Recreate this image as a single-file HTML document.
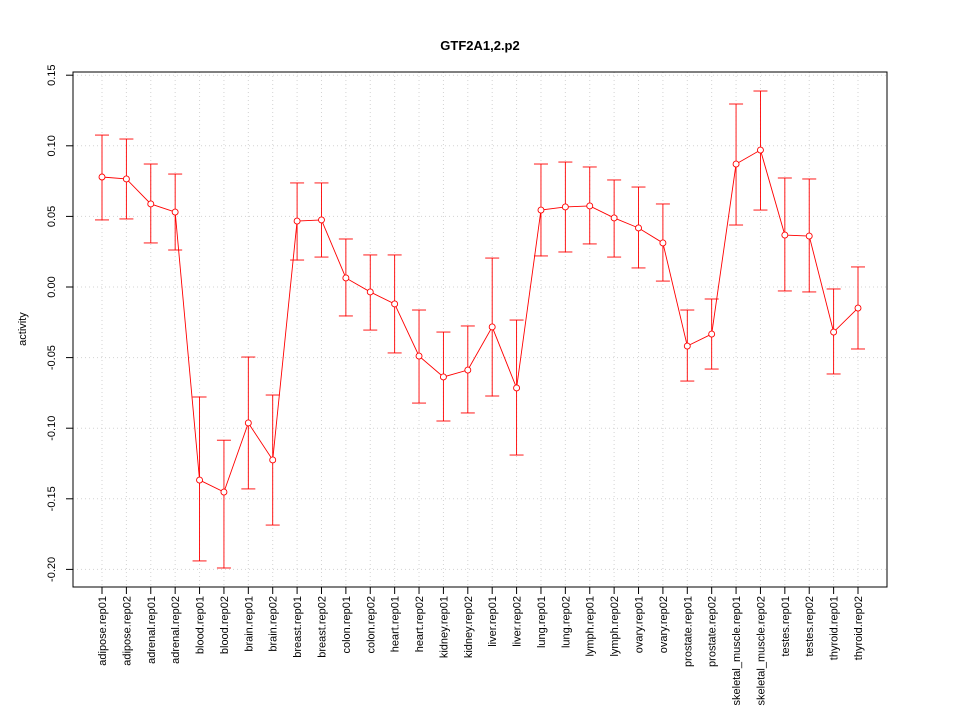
<!DOCTYPE html>
<html><head><meta charset="utf-8"><style>
body{margin:0;background:#fff}
svg{font-family:"Liberation Sans",sans-serif}
</style></head><body>
<svg id="chart" width="960" height="720"></svg>
<script>
const categories=["adipose.rep01","adipose.rep02","adrenal.rep01","adrenal.rep02","blood.rep01","blood.rep02","brain.rep01","brain.rep02","breast.rep01","breast.rep02","colon.rep01","colon.rep02","heart.rep01","heart.rep02","kidney.rep01","kidney.rep02","liver.rep01","liver.rep02","lung.rep01","lung.rep02","lymph.rep01","lymph.rep02","ovary.rep01","ovary.rep02","prostate.rep01","prostate.rep02","skeletal_muscle.rep01","skeletal_muscle.rep02","testes.rep01","testes.rep02","thyroid.rep01","thyroid.rep02"];
const values=[0.0779,0.0765,0.0588,0.0531,-0.1367,-0.1452,-0.0963,-0.1225,0.0467,0.0475,0.0064,-0.0035,-0.012,-0.0489,-0.0637,-0.0588,-0.0283,-0.0715,0.0545,0.0567,0.0574,0.0489,0.0418,0.0312,-0.0418,-0.0333,0.0871,0.097,0.0368,0.0361,-0.0319,-0.0149];
const upper=[0.1076,0.1048,0.0871,0.08,-0.0779,-0.1085,-0.0496,-0.0765,0.0737,0.0737,0.034,0.0227,0.0227,-0.0163,-0.0319,-0.0276,0.0205,-0.0234,0.0871,0.0885,0.085,0.0758,0.0708,0.0588,-0.0163,-0.0085,0.1296,0.1388,0.0772,0.0765,-0.0014,0.0142];
const lower=[0.0475,0.0482,0.0312,0.0262,-0.194,-0.199,-0.143,-0.1686,0.0191,0.0212,-0.0205,-0.0305,-0.0467,-0.0822,-0.0949,-0.0892,-0.0772,-0.119,0.022,0.0248,0.0305,0.0212,0.0135,0.0042,-0.0666,-0.0581,0.0439,0.0545,-0.0028,-0.0035,-0.0616,-0.0439];
const yTicks=[-0.2,-0.15,-0.1,-0.05,0,0.05,0.1,0.15];
const yTickLabels=["-0.20","-0.15","-0.10","-0.05","0.00","0.05","0.10","0.15"];

const svg=document.getElementById('chart');
const NS="http://www.w3.org/2000/svg";
const L=73,R=887,T=72,B=587;
const x=i=>102+i*(858-102)/(categories.length-1);
const y=v=>287-v*1412;
function mk(tag,attrs,parent){const e=document.createElementNS(NS,tag);for(const k in attrs)e.setAttribute(k,attrs[k]);(parent||svg).appendChild(e);return e;}

const grid=mk('g',{});


categories.forEach((c,i)=>{mk('line',{x1:x(i),x2:x(i),y1:T,y2:B,stroke:'#d3d3d3','stroke-dasharray':'1,3'},grid);});
yTicks.forEach(v=>{mk('line',{x1:L,x2:R,y1:y(v),y2:y(v),stroke:'#d3d3d3','stroke-dasharray':'1,3'},grid);});

const box=mk('rect',{x:L,y:T,width:R-L,height:B-T,fill:'none',stroke:'#000'});



const yax=mk('g',{});


yTicks.forEach((v,i)=>{
 mk('line',{x1:L-7,x2:L,y1:y(v),y2:y(v),stroke:'#000'},yax);
 const t=mk('text',{x:55,y:y(v),'font-size':11,'text-anchor':'middle',transform:`rotate(-90 55 ${y(v)})`},yax);
 t.textContent=yTickLabels[i];
});
const yl=mk('text',{x:26,y:329,'font-size':11,'text-anchor':'middle',transform:'rotate(-90 26 329)'});
yl.textContent='activity';



const xax=mk('g',{});


categories.forEach((c,i)=>{
 mk('line',{x1:x(i),x2:x(i),y1:B,y2:B+7,stroke:'#000'},xax);
 const t=mk('text',{x:x(i)+4,y:596,'font-size':11,'text-anchor':'end',transform:`rotate(-90 ${x(i)+4} 596)`},xax);
 t.textContent=c;
});

const title=mk('text',{x:480,y:50,'font-size':13,'font-weight':'bold','text-anchor':'middle'});
title.textContent='GTF2A1,2.p2';



const series=mk('g',{stroke:'#ff0000',fill:'none','stroke-width':0.9});


categories.forEach((c,i)=>{
 const eb=mk('g',{},series);
 
 
 mk('line',{x1:x(i),x2:x(i),y1:y(upper[i]),y2:y(lower[i])},eb);
 mk('line',{x1:x(i)-7,x2:x(i)+7,y1:y(upper[i]),y2:y(upper[i])},eb);
 mk('line',{x1:x(i)-7,x2:x(i)+7,y1:y(lower[i]),y2:y(lower[i])},eb);
});
const pl=mk('polyline',{points:values.map((v,i)=>x(i)+','+y(v)).join(' ')},series);


values.forEach((v,i)=>{
 const p=mk('circle',{cx:x(i),cy:y(v),r:3,fill:'#fff'},series);
 
 
});
</script>
</body></html>
